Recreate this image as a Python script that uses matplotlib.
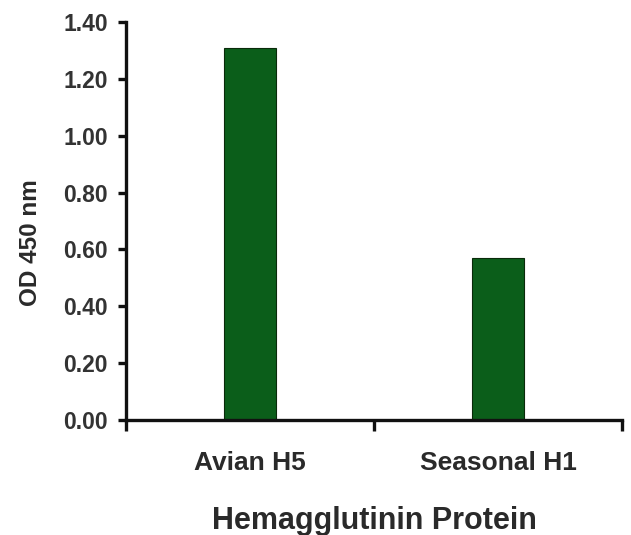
import matplotlib.pyplot as plt

plt.rcParams['font.family'] = ['Liberation Sans', 'DejaVu Sans']

# data
categories = ['Avian H5', 'Seasonal H1']
od_values = [1.31, 0.57]
y_ticks = [0.00, 0.20, 0.40, 0.60, 0.80, 1.00, 1.20, 1.40]

fig = plt.figure(figsize=(6.31, 5.35), dpi=100)
ax = fig.add_axes([0.1997, 0.215, 0.786, 0.744])

x = range(len(categories))
ax.bar(x, od_values, width=0.21, color='#0b5e1a', edgecolor='#0a2a0a', linewidth=0.8, zorder=2)

ax.set_xlim(-0.5, len(categories) - 0.5)
ax.set_ylim(0, 1.40)

ax.set_yticks(y_ticks)
ax.set_yticklabels([f'{v:.2f}' for v in y_ticks])
ax.set_xticks(list(x))
ax.set_xticklabels(categories)
ax.set_xticks([-0.5, 0.5, 1.5], minor=True)

for s in ['top', 'right']:
    ax.spines[s].set_visible(False)
for s in ['left', 'bottom']:
    ax.spines[s].set_linewidth(2.4)
    ax.spines[s].set_color('#111111')

ax.tick_params(axis='y', length=6, width=2.4, color='#111111', labelsize=16.5, pad=7, labelcolor='#333333')
ax.tick_params(axis='x', which='major', length=0, labelsize=19, pad=22, labelcolor='#2a2a2a')
ax.tick_params(axis='x', which='minor', length=8, width=2.4, color='#111111')
for lab in ax.get_yticklabels() + ax.get_xticklabels():
    lab.set_fontweight('bold')

ax.set_xlabel('Hemagglutinin Protein', fontsize=22, fontweight='bold', color='#2a2a2a')
ax.xaxis.set_label_coords(0.5, -0.215)
ax.set_ylabel('OD 450 nm', fontsize=17.5, fontweight='bold', color='#2a2a2a')
ax.yaxis.set_label_coords(-0.17, 0.445)

fig.savefig('out.png', dpi=100)
